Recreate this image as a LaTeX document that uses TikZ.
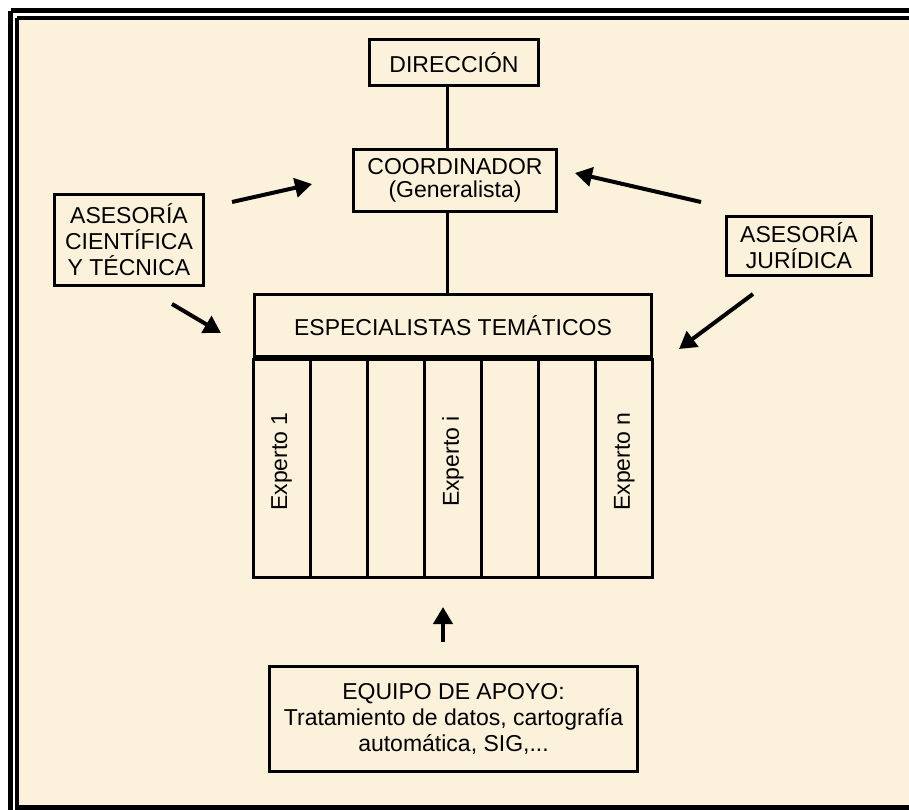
\documentclass[tikz,border=0pt]{standalone}
\usepackage{fontspec}
\setmainfont{Liberation Sans}
\usetikzlibrary{positioning}
\usetikzlibrary{arrows.meta}
\definecolor{paper}{RGB}{252,241,218}

\begin{document}
\begin{tikzpicture}[x=1pt, y=-1pt, >={Triangle[length=17pt,width=19pt]},
  box/.style={draw, line width=3pt, align=center, inner sep=0pt,
    font=\fontsize{23}{26}\selectfont},
  col/.style={draw, line width=3pt, minimum width=57.14pt,
    minimum height=218pt, inner sep=0pt},
  push/.style={->, line width=4pt}]
  % Page and double frame (right side runs off the page)
  \useasboundingbox (0,0) rectangle (909,810);
  \clip (0,0) rectangle (909,810);
  \fill[white] (0,0) rectangle (909,810);
  \fill[paper] (19,20) rectangle (909,805);
  \draw[line width=5pt] (10.5,11) -- (1000,11);
  \draw[line width=5pt] (10.5,11) -- (10.5,830);
  \draw[line width=4pt] (17,18) -- (1000,18);
  \draw[line width=4pt] (17,18) -- (17,830);
  \draw[line width=5pt] (17,807.5) -- (1000,807.5);

  % Chain of command
  \node[box, minimum width=169pt, minimum height=46pt] (dir) at (454,62.5) {DIRECCIÓN};
  \node[box, minimum width=203pt, minimum height=62pt] (coord) at (455,180.5)
    {COORDINADOR\\[-3pt](Generalista)};
  \node[box, minimum width=397pt, minimum height=62pt] (esp) at (453,325.5)
    {ESPECIALISTAS TEMÁTICOS};

  % Advisory and support boxes
  \node[box, minimum width=149pt, minimum height=91pt] (aci) at (129,240)
    {ASESORÍA\\CIENTÍFICA\\Y TÉCNICA};
  \node[box, minimum width=145pt, minimum height=59pt] (aju) at (799,246)
    {ASESORÍA\\JURÍDICA};
  \node[box, minimum width=368pt, minimum height=105pt] (apoyo) at (453.5,719)
    {EQUIPO DE APOYO:\\Tratamiento de datos, cartografía\\automática, SIG,...};

  % Expert columns
  \foreach \i in {1,...,7} {
    \node[col] (c\i) at ({253+57.14*(\i-0.5)},468.5) {};
  }
  \foreach \i/\txt in {1/Experto 1, 4/Experto i, 7/Experto n} {
    \node[rotate=90, font=\fontsize{23}{26}\selectfont] (lab\i)
      at ([yshift=7pt]c\i.center) {\txt};
  }

  % Vertical links
  \coordinate (axis) at (447,0);
  \draw[line width=3pt] (dir.south -| axis) -- (coord.north -| axis);
  \draw[line width=3pt] (coord.south -| axis) -- (esp.north -| axis);

  % Arrows towards coordinator and specialists
  \coordinate (aciUp) at (232,202);
  \coordinate (coordL) at (312,184);
  \coordinate (ajuUp) at (701,202);
  \coordinate (coordR) at (575,173);
  \coordinate (aciDown) at (172,304);
  \coordinate (espL) at (221,333);
  \coordinate (ajuDown) at (753,294);
  \coordinate (espR) at (679,349);
  \draw[push] (aciUp) -- (coordL);
  \draw[push] (ajuUp) -- (coordR);
  \draw[push] (aciDown) -- (espL);
  \draw[push] (ajuDown) -- (espR);

  % Support team feeding the specialists
  \coordinate (apoyoUp) at (443,642);
  \coordinate (espB) at (443,607);
  \draw[push] (apoyoUp) -- (espB);
\end{tikzpicture}
\end{document}
